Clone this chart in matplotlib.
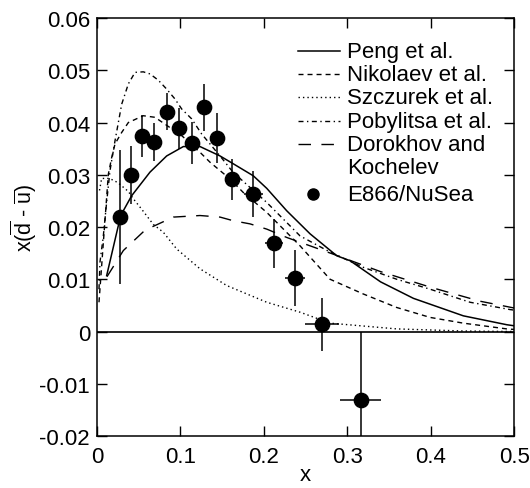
import matplotlib
matplotlib.use("Agg")
import matplotlib.pyplot as plt

plt.rcParams['font.family'] = ['Liberation Sans', 'DejaVu Sans']
plt.rcParams['mathtext.fontset'] = 'custom'
plt.rcParams['mathtext.rm'] = 'Liberation Sans'
plt.rcParams['mathtext.it'] = 'Liberation Sans:italic'

# ---- data: E866/NuSea points ----
e866_x = [0.0276, 0.0404, 0.0543, 0.0688, 0.0843, 0.0987, 0.1139, 0.1287,
          0.1435, 0.1622, 0.1875, 0.2122, 0.2374, 0.2698, 0.3162]
e866_y = [0.0219, 0.0300, 0.0374, 0.0363, 0.0421, 0.0389, 0.0361, 0.0429,
          0.0370, 0.0291, 0.0263, 0.0169, 0.0102, 0.0014, -0.0131]
e866_yerr = [0.0128, 0.0055, 0.0040, 0.0036, 0.0035, 0.0039, 0.0040, 0.0045,
             0.0048, 0.0039, 0.0044, 0.0047, 0.0054, 0.0051, 0.0130]
e866_xerr = [0, 0, 0, 0, 0, 0, 0, 0,
             0, 0.0084, 0.0114, 0.0110, 0.0116, 0.0204, 0.0246]

# ---- model curves ----
peng_x = [0.0116, 0.0284, 0.0416, 0.0635, 0.0835, 0.1035, 0.1235, 0.1475,
          0.1634, 0.1874, 0.2035, 0.2275, 0.2554, 0.2874, 0.3034, 0.34,
          0.3793, 0.4392, 0.4912, 0.5]
peng_y = [0.0107, 0.0222, 0.0260, 0.0305, 0.0336, 0.0354, 0.0354, 0.0336,
          0.0321, 0.0298, 0.0274, 0.0231, 0.0187, 0.0145, 0.01355, 0.0095,
          0.00635, 0.0030, 0.0013, 0.0011]

nik_x = [0.0024, 0.0136, 0.0176, 0.0216, 0.0296, 0.0376, 0.0555, 0.0695,
         0.1015, 0.1235, 0.1355, 0.1595, 0.1754, 0.2035, 0.2434, 0.2794,
         0.319, 0.3593, 0.3993, 0.4392, 0.4912, 0.5]
nik_y = [0.0056, 0.0301, 0.0333, 0.0359, 0.0381, 0.0400, 0.0413, 0.0410,
         0.0375, 0.0343, 0.0324, 0.0292, 0.0266, 0.0228, 0.0164, 0.0100,
         0.0072, 0.0046, 0.0027, 0.0016, 0.0005, 0.0004]

szc_x = [0.003, 0.0056, 0.015, 0.025, 0.0376, 0.0436, 0.0536, 0.0675,
         0.0795, 0.0955, 0.1235, 0.1555, 0.2035, 0.2434, 0.2794, 0.3593,
         0.4392, 0.5]
szc_y = [0.0270, 0.0293, 0.0293, 0.0285, 0.0268, 0.0254, 0.0234, 0.0205,
         0.0190, 0.0158, 0.0120, 0.0088, 0.0056, 0.0037, 0.0016, 0.0005,
         0.0001, 0.0]

pob_x = [0.0024, 0.0036, 0.0076, 0.0116, 0.0156, 0.0216, 0.0296, 0.0376,
         0.0456, 0.0555, 0.0636, 0.0735, 0.0835, 0.0935, 0.1015, 0.1135,
         0.1255, 0.1475, 0.163, 0.2035, 0.2434, 0.2794, 0.319, 0.3593,
         0.3993, 0.4472, 0.4952, 0.5]
pob_y = [0.0081, 0.0133, 0.0183, 0.0248, 0.0308, 0.0365, 0.0435, 0.0474,
         0.0496, 0.0497, 0.0493, 0.0481, 0.0464, 0.0445, 0.0426, 0.0407,
         0.0378, 0.0336, 0.0305, 0.0247, 0.0183, 0.0152, 0.0123, 0.0100,
         0.0081, 0.0056, 0.0042, 0.0041]

dor_x = [0.012, 0.0316, 0.0576, 0.0915, 0.1235, 0.1475, 0.1634, 0.1835,
         0.2035, 0.2275, 0.2554, 0.2833, 0.3393, 0.3993, 0.4592, 0.5]
dor_y = [0.0105, 0.0155, 0.0194, 0.0219, 0.0222, 0.0219, 0.0212, 0.0206,
         0.0196, 0.0180, 0.0164, 0.0148, 0.0115, 0.0085, 0.0058, 0.0045]

labels = ["Peng et al.", "Nikolaev et al.", "Szczurek et al.",
          "Pobylitsa et al.", "Dorokhov and\nKochelev", "E866/NuSea"]

fig = plt.figure(figsize=(5.30, 4.89), dpi=100)
ax = fig.add_axes([0.183, 0.1063, 0.787, 0.8548])

lw = 1.0
styles = [dict(ls='-', lw=1.1),
          dict(dashes=(3.6, 2.9), lw=lw),
          dict(dashes=(1.0, 2.2), lw=lw),
          dict(dashes=(3.6, 2.5, 1.0, 2.5), lw=lw),
          dict(dashes=(9.0, 7.5), lw=lw)]

ax.axhline(0, color='black', lw=1.2, zorder=1)
curves = [(peng_x, peng_y), (nik_x, nik_y), (szc_x, szc_y),
          (pob_x, pob_y), (dor_x, dor_y)]
for (cx, cy), st in zip(curves, styles):
    ax.plot(cx, cy, color='black', **st)
ax.errorbar(e866_x, e866_y, yerr=e866_yerr, xerr=e866_xerr, fmt='o',
            color='black', ms=10.3, elinewidth=1.1, capsize=0, zorder=5)

ax.set_xlim(0, 0.5)
ax.set_ylim(-0.02, 0.06)
ax.set_xticks([0, 0.1, 0.2, 0.3, 0.4, 0.5])
ax.set_xticklabels(['0', '0.1', '0.2', '0.3', '0.4', '0.5'])
ax.set_yticks([-0.02, -0.01, 0, 0.01, 0.02, 0.03, 0.04, 0.05, 0.06])
ax.set_yticklabels(['-0.02', '-0.01', '0', '0.01', '0.02', '0.03', '0.04', '0.05', '0.06'])
ax.tick_params(direction='in', length=7.5, width=1.0, top=True, right=True,
               labelsize=16)
ax.tick_params(axis='x', pad=7)
ax.tick_params(axis='y', pad=5)
for s in ax.spines.values():
    s.set_linewidth(1.1)

ax.set_xlabel('x', fontsize=16)
ax.xaxis.set_label_coords(0.5, -0.068)
ax.set_ylabel(r'x($\overline{\mathrm{d}}$ - $\overline{\mathrm{u}}$)', fontsize=15.5)
ax.yaxis.set_label_coords(-0.14, 0.525)

# ---- manual legend (axes-fraction positions) ----
def ax_pos(px, py):
    return (px - 97) / 417.0, (437 - py) / 418.0

row_py = [52, 75, 98, 122, 145, 195]
for i, (lab, py) in enumerate(zip(labels, row_py)):
    tx, ty = ax_pos(347, py)
    if i < 5:
        x0, _ = ax_pos(298, py)
        x1, _ = ax_pos(340, py)
        ax.plot([x0, x1], [ty, ty], color='black', transform=ax.transAxes,
                clip_on=False, **styles[i])
    else:
        mx, _ = ax_pos(313, py)
        ax.plot([mx], [ty], 'o', color='black', ms=8, transform=ax.transAxes)
    if '\n' in lab:
        ax.text(tx, ty, lab.split('\n')[0], transform=ax.transAxes,
                fontsize=16, va='center', ha='left')
        _, ty2 = ax_pos(347, 168)
        ax.text(tx, ty2, lab.split('\n')[1], transform=ax.transAxes,
                fontsize=16, va='center', ha='left')
    else:
        ax.text(tx, ty, lab, transform=ax.transAxes, fontsize=16,
                va='center', ha='left')

fig.savefig('out.png', dpi=100)
